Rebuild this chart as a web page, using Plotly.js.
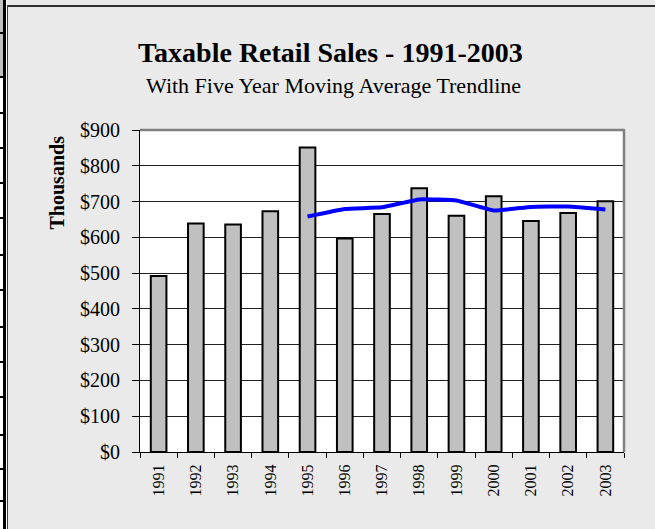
<!DOCTYPE html>
<html>
<head>
<meta charset="utf-8">
<script src="https://cdn.plot.ly/plotly-3.0.1.min.js"></script>
<style>
  html, body { margin: 0; padding: 0; background: #EAEAEA; }
  #wrap { position: relative; width: 655px; height: 529px; overflow: hidden; }
  #chart { position: absolute; left: 0; top: 0; width: 655px; height: 529px; }
  .ov { position: absolute; pointer-events: none; }
</style>
</head>
<body>
<div id="wrap">
  <div id="chart"></div>
</div>
<script>
// Data (values in thousands of dollars)
const years = ['1991','1992','1993','1994','1995','1996','1997','1998','1999','2000','2001','2002','2003'];
const sales = [492, 639, 636, 673, 851, 597, 665, 737, 660, 715, 646, 668, 701];
const trendYears = ['1995','1996','1997','1998','1999','2000','2001','2002','2003'];
const trendValues = [658, 679, 684, 706, 703, 675, 685, 686, 678];
const yTicks = [0, 100, 200, 300, 400, 500, 600, 700, 800, 900];
const yTickLabels = ['$0', '$100', '$200', '$300', '$400', '$500', '$600', '$700', '$800', '$900'];
const titleText = 'Taxable Retail Sales - 1991-2003';
const subtitleText = 'With Five Year Moving Average Trendline';
const yTitleText = 'Thousands';

const serif = 'Liberation Serif, Times New Roman, serif';

const traces = [
  {
    type: 'bar',
    x: years,
    y: sales,
    marker: { color: '#C0C0C0', line: { color: '#000000', width: 2 } },
    hoverinfo: 'skip',
    showlegend: false
  },
  {
    type: 'scatter',
    mode: 'lines',
    x: trendYears,
    y: trendValues,
    line: { color: '#0000FF', width: 4, shape: 'spline', smoothing: 0.3 },
    hoverinfo: 'skip',
    showlegend: false
  }
];

const layout = {
  width: 655,
  height: 529,
  margin: { l: 140, r: 31, t: 130, b: 77, pad: 0 },
  paper_bgcolor: '#EAEAEA',
  plot_bgcolor: '#FFFFFF',
  bargap: 0.58,
  showlegend: false,
  font: { family: serif, color: '#000000' },
  xaxis: {
    type: 'category',
    range: [-0.5, 12.5],
    showline: true,
    linecolor: '#000000',
    linewidth: 1,
    ticks: 'outside',
    ticklen: 5,
    tickcolor: '#000000',
    tickson: 'boundaries',
    tickangle: -90,
    ticklabelstandoff: 5,
    tickfont: { family: serif, size: 16, color: '#000000' },
    showgrid: false,
    zeroline: false,
    fixedrange: true
  },
  yaxis: {
    range: [0, 900],
    tickmode: 'array',
    tickvals: yTicks,
    ticktext: yTickLabels,
    showline: true,
    linecolor: '#000000',
    linewidth: 1,
    ticks: 'outside',
    ticklen: 7,
    tickcolor: '#000000',
    ticklabelstandoff: 8,
    tickfont: { family: serif, size: 20, color: '#000000' },
    showgrid: true,
    gridcolor: '#222222',
    gridwidth: 1,
    zeroline: false,
    fixedrange: true
  },
  shapes: [
    { type: 'line', xref: 'paper', yref: 'paper', x0: 0, x1: 1.002, y0: 1, y1: 1, line: { color: '#808080', width: 2.5 } },
    { type: 'line', xref: 'paper', yref: 'paper', x0: 1, x1: 1, y0: 0, y1: 1, line: { color: '#808080', width: 2.5 } }
  ],
  annotations: [
    { xref: 'paper', yref: 'paper', x: 0.3926, y: 1.2422, xanchor: 'center', yanchor: 'middle',
      text: '<b>' + titleText + '</b>', showarrow: false, font: { family: serif, size: 28, color: '#000000' } },
    { xref: 'paper', yref: 'paper', x: 0.3988, y: 1.138, xanchor: 'center', yanchor: 'middle',
      text: subtitleText, showarrow: false, font: { family: serif, size: 22, color: '#000000' } },
    { xref: 'paper', yref: 'paper', x: -0.1715, y: 0.837, xanchor: 'center', yanchor: 'middle', textangle: -90,
      text: '<b>' + yTitleText + '</b>', showarrow: false, font: { family: serif, size: 20, color: '#000000' } }
  ]
};

Plotly.newPlot('chart', traces, layout, { staticPlot: true, displayModeBar: false }).then(function () {
  // decorative frame (sheet edge) drawn on top of the chart
  const wrap = document.getElementById('wrap');
  function box(l, t, w, h, bg) {
    const d = document.createElement('div');
    d.className = 'ov';
    d.style.left = l + 'px'; d.style.top = t + 'px';
    d.style.width = w + 'px'; d.style.height = h + 'px';
    d.style.background = bg;
    wrap.appendChild(d);
  }
  box(0, 0, 7, 529, '#FFFFFF');
  box(0, 0, 3, 77, '#C0C0C0');
  box(3, 0, 3, 529, '#000000');
  [33, 77, 113, 148, 183, 218, 255, 290, 327, 362, 397, 435, 469, 501].forEach(function (y) {
    box(0, y - 1, 4, 2, '#000000');
  });
  box(7, 5, 648, 2, '#303030');
  box(7, 5, 1, 524, '#404040');
});
</script>
</body>
</html>
